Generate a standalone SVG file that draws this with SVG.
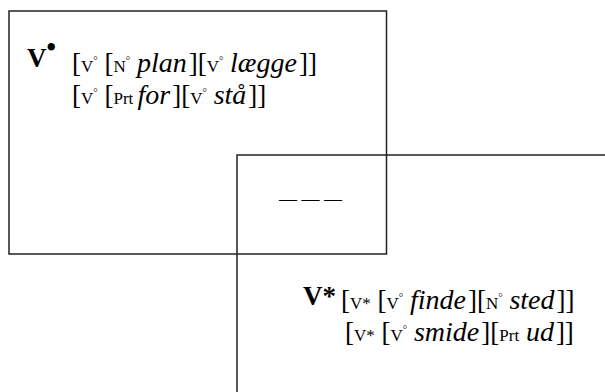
<svg xmlns="http://www.w3.org/2000/svg" width="605" height="392" viewBox="0 0 605 392">
<style>
.box{fill:none;stroke:#222;stroke-width:1.5}
text{font-family:"Liberation Serif","Times New Roman",serif;fill:#000}
.t{font-size:27px}
.it{font-family:"Liberation Serif","Times New Roman",serif;font-style:italic;font-size:28px}
.sc{font-size:17px}
.dg{font-size:11px}
.big{font-weight:bold;font-size:27px}
</style>
<g id="box1">
<rect class="box" x="9" y="11" width="377.5" height="243"/>
<text x="27" y="67"><tspan class="big">V</tspan><tspan class="big" font-size="17" dy="-11">•</tspan></text>
<text class="t" x="72" y="72">[<tspan class="sc">V</tspan><tspan class="dg" dy="-8">°</tspan><tspan dy="8"> [</tspan><tspan class="sc">N</tspan><tspan class="dg" dy="-8">°</tspan><tspan dy="8"> </tspan><tspan class="it">plan</tspan><tspan dx="2">][</tspan><tspan class="sc">V</tspan><tspan class="dg" dy="-8">°</tspan><tspan dy="8"> </tspan><tspan class="it">lægge</tspan><tspan dx="2">]]</tspan></text>
<text class="t" x="72" y="104">[<tspan class="sc">V</tspan><tspan class="dg" dy="-8">°</tspan><tspan dy="8"> [</tspan><tspan class="sc">Prt </tspan><tspan class="it">for</tspan><tspan dx="2">][</tspan><tspan class="sc">V</tspan><tspan class="dg" dy="-8">°</tspan><tspan dy="8"> </tspan><tspan class="it">stå</tspan><tspan dx="2">]]</tspan></text>
</g>
<g id="box2">
<path class="box" d="M605 155 H237 V392"/>
<text x="279" y="205" font-size="18" fill="#333">— — —</text>
<text x="303" y="305"><tspan class="big">V*</tspan></text>
<text class="t" x="341" y="309">[<tspan class="sc">V*</tspan><tspan> [</tspan><tspan class="sc">V</tspan><tspan class="dg" dy="-8">°</tspan><tspan dy="8"> </tspan><tspan class="it">finde</tspan><tspan dx="2">][</tspan><tspan class="sc">N</tspan><tspan class="dg" dy="-8">°</tspan><tspan dy="8"> </tspan><tspan class="it">sted</tspan><tspan dx="2">]]</tspan></text>
<text class="t" x="345" y="341">[<tspan class="sc">V*</tspan><tspan> [</tspan><tspan class="sc">V</tspan><tspan class="dg" dy="-8">°</tspan><tspan dy="8"> </tspan><tspan class="it">smide</tspan><tspan dx="2">][</tspan><tspan class="sc">Prt</tspan><tspan> </tspan><tspan class="it">ud</tspan><tspan dx="2">]]</tspan></text>
</g>
<g id="connectors"/>
</svg>
